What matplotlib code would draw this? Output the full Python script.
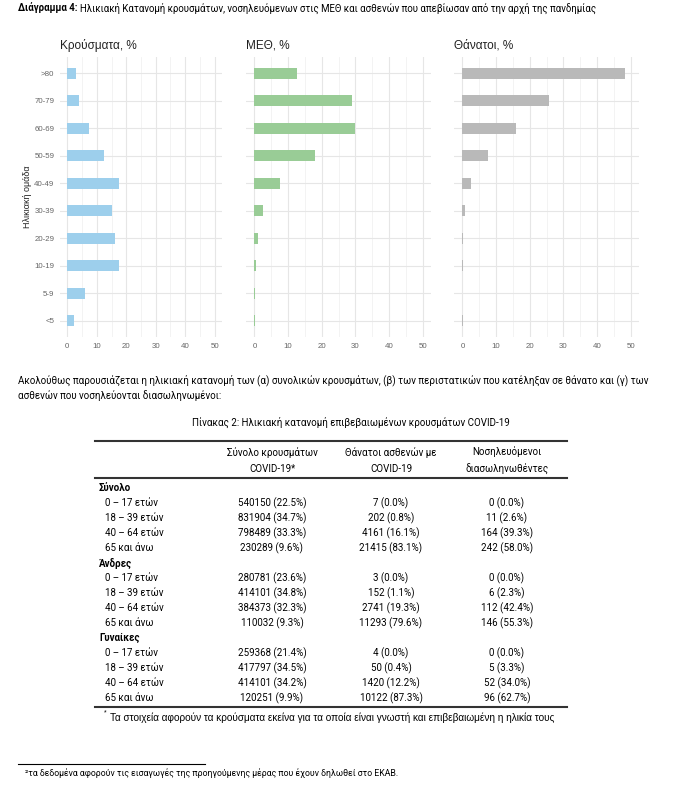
import numpy as np
import matplotlib
matplotlib.use("Agg")
import matplotlib.pyplot as plt
from matplotlib import font_manager

# fonts: narrow one for the document text if we have it
names = set(f.name for f in font_manager.fontManager.ttflist)
NARROW = "Liberation Sans Narrow" if "Liberation Sans Narrow" in names else "Roboto"
SANS = "Liberation Sans"
plt.rcParams['font.family'] = [SANS, 'DejaVu Sans']

W, H = 685, 788

# chart data (percent by age group)
ages = ["<5", "5-9", "10-19", "20-29", "30-39", "40-49", "50-59", "60-69", "70-79", ">80"]
cases_pct_age = [2.3, 5.9, 17.6, 16.2, 15.1, 17.4, 12.5, 7.4, 4.1, 3.0]
icu_pct_age = [0.1, 0.1, 0.4, 1.1, 2.6, 7.7, 18.1, 29.8, 28.9, 12.7]
deaths_pct_age = [0.05, 0.0, 0.1, 0.3, 0.9, 2.7, 7.5, 16.0, 25.6, 48.2]
panel_titles = ["Κρούσματα, %", "ΜΕΘ, %", "Θάνατοι, %"]
colors = ["#9dcfec", "#99cc96", "#b9b9b9"]

# table data
groups = ["Σύνολο", "Άνδρες", "Γυναίκες"]
age_rows = ["0 – 17 ετών", "18 – 39 ετών", "40 – 64 ετών", "65 και άνω"]
col_heads = ["Σύνολο κρουσμάτων\nCOVID-19*", "Θάνατοι ασθενών με\nCOVID-19", "Νοσηλευόμενοι\nδιασωληνωθέντες"]
cases_n = [540150, 831904, 798489, 230289, 280781, 414101, 384373, 110032, 259368, 417797, 414101, 120251]
cases_pct = [22.5, 34.7, 33.3, 9.6, 23.6, 34.8, 32.3, 9.3, 21.4, 34.5, 34.2, 9.9]
deaths_n = [7, 202, 4161, 21415, 3, 152, 2741, 11293, 4, 50, 1420, 10122]
deaths_pct = [0.0, 0.8, 16.1, 83.1, 0.0, 1.1, 19.3, 79.6, 0.0, 0.4, 12.2, 87.3]
intub_n = [0, 11, 164, 242, 0, 6, 112, 146, 0, 5, 52, 96]
intub_pct = [0.0, 2.6, 39.3, 58.0, 0.0, 2.3, 42.4, 55.3, 0.0, 3.3, 34.0, 62.7]


def fx(x):
    return x / W


def fy(y):
    return 1 - y / H


fig = plt.figure(figsize=(W / 100, H / 100), dpi=100)
fig.patch.set_facecolor("white")
doc_font = [NARROW, 'DejaVu Sans']

# title with bold prefix
renderer = fig.canvas.get_renderer()
t = fig.text(fx(18), fy(8), "Διάγραμμα 4:", fontsize=6.9, fontweight="bold",
             family=doc_font, va="center", ha="left")
bb = t.get_window_extent(renderer)
fig.text(fx(18) + (bb.width + 3) / W, fy(8),
         "Ηλικιακή Κατανομή κρουσμάτων, νοσηλευόμενων στις ΜΕΘ και ασθενών που απεβίωσαν από την αρχή της πανδημίας",
         fontsize=6.9, family=doc_font, va="center", ha="left")

# three bar panels
panel_x = [(60, 222), (246, 431), (454, 639)]
top, bottom = 57, 337
series = [cases_pct_age, icu_pct_age, deaths_pct_age]
pos = np.arange(len(ages))

for i in range(3):
    x0, x1 = panel_x[i]
    ax = fig.add_axes([fx(x0), fy(bottom), (x1 - x0) / W, (bottom - top) / H])
    ax.barh(pos, series[i], height=0.4, color=colors[i], zorder=3)
    ax.set_xlim(-2.5, 52.5)
    ax.set_ylim(-0.6, len(ages) - 0.4)
    ax.set_xticks(np.arange(0, 51, 10))
    ax.set_xticks(np.arange(5, 51, 10), minor=True)
    ax.set_yticks(pos)
    ax.grid(True, which="major", color="#e6e6e6", linewidth=0.8, zorder=0)
    ax.grid(True, which="minor", axis="x", color="#eeeeee", linewidth=0.5, zorder=0)
    for s in ax.spines.values():
        s.set_visible(False)
    ax.tick_params(axis="both", which="both", length=0, labelsize=5.7, labelcolor="#666666")
    ax.tick_params(axis="x", pad=4)
    if i == 0:
        ax.set_yticklabels(ages)
        ax.tick_params(axis="y", pad=4)
    else:
        ax.set_yticklabels([])
    fig.text(fx(x0), fy(45), panel_titles[i], fontsize=8.5, color="#222222",
             va="center", ha="left")

fig.text(fx(28), fy(197), "Ηλικιακή ομάδα", rotation=90, fontsize=6.5,
         color="#222222", va="center", ha="center")

# paragraph
fig.text(fx(18), fy(380),
         "Ακολούθως παρουσιάζεται η ηλικιακή κατανομή των (α) συνολικών κρουσμάτων, (β) των περιστατικών που κατέληξαν σε θάνατο και (γ) των",
         fontsize=7, family=doc_font, va="center", ha="left")
fig.text(fx(18), fy(396), "ασθενών που νοσηλεύονται διασωληνωμένοι:",
         fontsize=7, family=doc_font, va="center", ha="left")
fig.text(fx(351), fy(422), "Πίνακας 2: Ηλικιακή κατανομή επιβεβαιωμένων κρουσμάτων COVID-19",
         fontsize=7, family=doc_font, va="center", ha="center")

# table
tab_size = 7
lx0, lx1 = 95, 567
for ly in [441.5, 478, 707]:
    fig.add_artist(plt.Line2D([fx(lx0), fx(lx1)], [fy(ly), fy(ly)], color="#333333", linewidth=1.5))

col_x = [272, 391, 507]
for j in range(3):
    fig.text(fx(col_x[j]), fy(460.5), col_heads[j], fontsize=tab_size, family=doc_font,
             va="center", ha="center", linespacing=1.7)

k = 0
for g in range(3):
    y = 488 + 75 * g
    fig.text(fx(99), fy(y), groups[g], fontsize=tab_size, fontweight="bold", family=doc_font,
             va="center", ha="left")
    for r in range(4):
        y = 488 + 75 * g + 15 * (r + 1)
        fig.text(fx(105), fy(y), age_rows[r], fontsize=tab_size, family=doc_font, va="center", ha="left")
        fig.text(fx(col_x[0]), fy(y), f"{cases_n[k]} ({cases_pct[k]:.1f}%)", fontsize=tab_size,
                 family=doc_font, va="center", ha="center")
        fig.text(fx(col_x[1]), fy(y), f"{deaths_n[k]} ({deaths_pct[k]:.1f}%)", fontsize=tab_size,
                 family=doc_font, va="center", ha="center")
        fig.text(fx(col_x[2]), fy(y), f"{intub_n[k]} ({intub_pct[k]:.1f}%)", fontsize=tab_size,
                 family=doc_font, va="center", ha="center")
        k += 1

fig.text(fx(104), fy(713), "*", fontsize=5, va="center", ha="left")
fig.text(fx(110), fy(718),
         "Τα στοιχεία αφορούν τα κρούσματα εκείνα για τα οποία είναι γνωστή και επιβεβαιωμένη η ηλικία τους",
         fontsize=7.2, va="center", ha="left")

# page footnote
fig.add_artist(plt.Line2D([fx(18), fx(205)], [fy(764), fy(764)], color="black", linewidth=0.8))
fig.text(fx(25), fy(773),
         "²τα δεδομένα αφορούν τις εισαγωγές της προηγούμενης μέρας που έχουν δηλωθεί στο ΕΚΑΒ.",
         fontsize=6.3, family=doc_font, va="center", ha="left")

fig.savefig("out.png", dpi=100)
